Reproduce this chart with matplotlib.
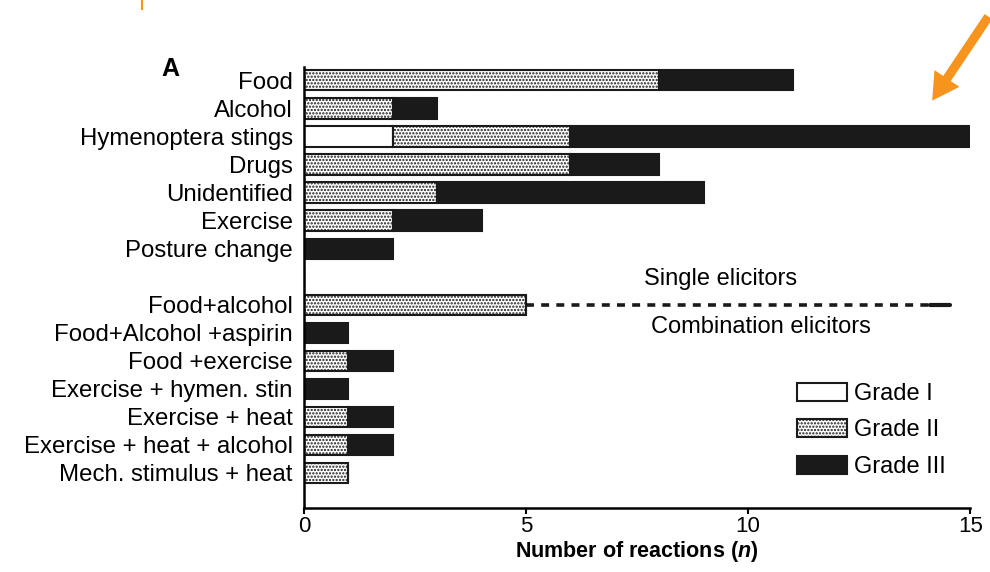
import matplotlib.pyplot as plt
import matplotlib.patches as mpatches
import numpy as np

plt.rcParams['font.family'] = ['Liberation Sans', 'DejaVu Sans']
plt.rcParams['mathtext.fontset'] = 'custom'
plt.rcParams['mathtext.it'] = 'Liberation Sans:italic:bold'
plt.rcParams['hatch.linewidth'] = 1.1

# elicitor categories (blank entry separates single from combination elicitors)
categories = ["Food", "Alcohol", "Hymenoptera stings", "Drugs", "Unidentified",
              "Exercise", "Posture change", "",
              "Food+alcohol", "Food+Alcohol +aspirin", "Food +exercise",
              "Exercise + hymen. stin", "Exercise + heat",
              "Exercise + heat + alcohol", "Mech. stimulus + heat"]
grade1 = [0, 0, 2, 0, 0, 0, 0, 0, 0, 0, 0, 0, 0, 0, 0]
grade2 = [8, 2, 4, 6, 3, 2, 0, 0, 5, 0, 1, 0, 1, 1, 1]
grade3 = [3, 1, 9, 2, 6, 2, 2, 0, 0, 1, 1, 1, 1, 1, 0]
x_ticks = [0, 5, 10, 15]

fig = plt.figure(figsize=(9.9, 5.72), dpi=100)
ax = fig.add_axes([0.307, 0.112, 0.673, 0.77])

y = np.arange(len(categories))
g1 = np.array(grade1)
g2 = np.array(grade2)
g3 = np.array(grade3)
h = 0.72

ax.barh(y, g1, height=h, color='white', edgecolor='#1a1a1a', linewidth=1.5)
ax.barh(y, g2, left=g1, height=h, color='white', edgecolor='#1a1a1a',
        linewidth=1.5, hatch='.....')
ax.barh(y, g3, left=g1 + g2, height=h, color='#1a1a1a', edgecolor='#1a1a1a',
        linewidth=1.5)

# separator between single and combination elicitors
sep_row = categories.index("Food+alcohol")
ax.plot([5, 14.1], [sep_row, sep_row], color='#1a1a1a', lw=2.6,
        linestyle=(0, (2.2, 2.0)))
ax.plot([14.1, 14.55], [sep_row, sep_row], color='#1a1a1a', lw=3.0,
        solid_capstyle='round')
ax.text(9.39, sep_row - 0.92, "Single elicitors", ha='center', va='center',
        fontsize=17)
ax.text(10.3, sep_row + 0.78, "Combination elicitors", ha='center',
        va='center', fontsize=17)

ax.set_yticks(y)
ax.set_yticklabels(categories, fontsize=17.3)
ax.tick_params(axis='y', length=0, pad=8)
ax.set_xticks(x_ticks)
ax.tick_params(axis='x', labelsize=16, width=1.5, length=4, pad=1.5)
ax.set_xlim(0, 15)
ax.set_ylim(len(categories) - 1 + 1.25, -0.46)
for s in ['top', 'right']:
    ax.spines[s].set_visible(False)
for s in ['left', 'bottom']:
    ax.spines[s].set_linewidth(1.8)
ax.set_xlabel(r"Number of reactions ($n$)", fontsize=15.5, fontweight='bold',
              labelpad=2)

fig.text(0.172, 0.88, "A", fontsize=18, fontweight='bold', ha='center',
         va='center')

handles = [
    mpatches.Patch(facecolor='white', edgecolor='#1a1a1a', linewidth=1.5,
                   label='Grade I'),
    mpatches.Patch(facecolor='white', edgecolor='#1a1a1a', linewidth=1.5,
                   hatch='.....', label='Grade II'),
    mpatches.Patch(facecolor='#1a1a1a', edgecolor='#1a1a1a', linewidth=1.5,
                   label='Grade III'),
]
ax.legend(handles=handles, loc='lower right', bbox_to_anchor=(0.995, 0.02),
          frameon=False, fontsize=17, handlelength=2.1, handleheight=0.8,
          labelspacing=0.6, handletextpad=0.3)

# orange arrow in the top right corner of the screenshot
fig.patches.append(mpatches.FancyArrowPatch(
    (1.0, 0.975), (0.94, 0.82), transform=fig.transFigure,
    arrowstyle='simple,head_width=1.8,head_length=1.6,tail_width=0.55',
    mutation_scale=12, color='#f7941d', lw=0))
fig.lines.append(plt.Line2D([0.1435, 0.1435], [0.985, 1.0],
                            transform=fig.transFigure, color='#f7941d', lw=1.5))

fig.savefig('out.png', dpi=100)
